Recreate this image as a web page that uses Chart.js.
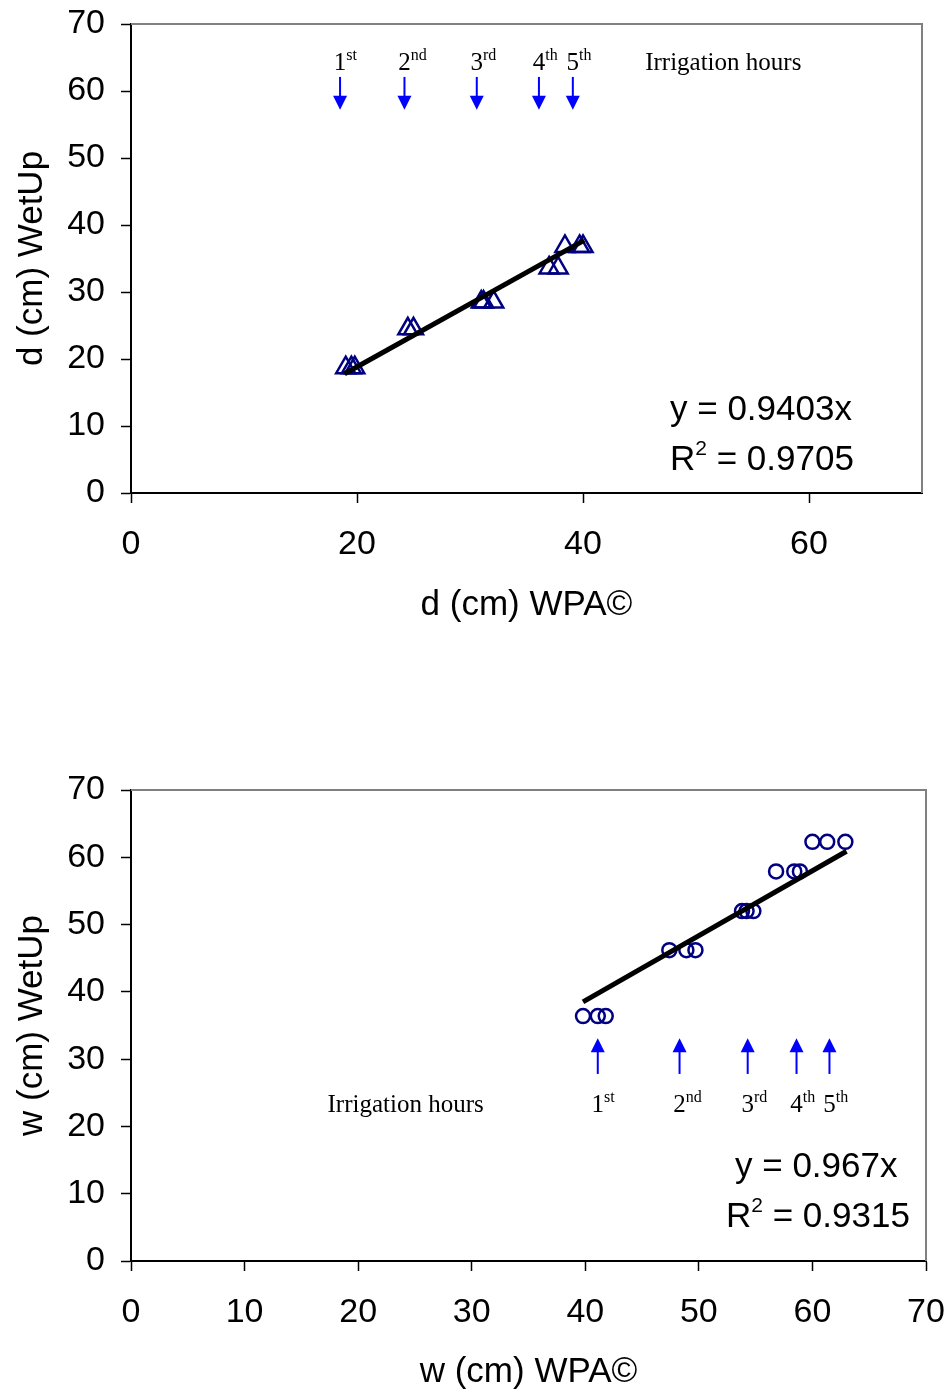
<!DOCTYPE html>
<html>
<head>
<meta charset="utf-8">
<script src="https://cdn.jsdelivr.net/npm/chart.js@4.4.0/dist/chart.umd.min.js"></script>
<style>
  body { margin: 0; background: #fff; }
  #wrap { position: relative; width: 948px; height: 1393px; }
  canvas { position: absolute; left: 0; }
</style>
</head>
<body>
<div id="wrap">
  <canvas id="depthChart" width="948" height="680" style="top:0px"></canvas>
  <canvas id="widthChart" width="948" height="713" style="top:680px"></canvas>
</div>
<script>
// depth (top chart): WPA vs WetUp, triangles
var depthWpa = [19.0, 19.5, 19.8, 24.5, 25.0, 31.0, 31.2, 32.1, 37.0, 37.8, 38.4, 39.7, 40.0];
var depthWet = [18.7, 18.7, 18.7, 24.5, 24.5, 28.5, 28.5, 28.5, 33.6, 33.6, 36.8, 36.8, 36.8];
var depthTrendX = [18.9, 40.1];
var depthTrendY = [17.8, 37.7];
var depthArrowX = [18.5, 24.2, 30.6, 36.1, 39.1];

// width (bottom chart): WPA vs WetUp, circles
var widthWpa = [39.8, 41.1, 41.8, 47.4, 48.9, 49.7, 53.8, 54.2, 54.8, 56.8, 58.4, 58.9, 60.0, 61.3, 62.9];
var widthWet = [36.4, 36.4, 36.4, 46.2, 46.2, 46.2, 52.0, 52.0, 52.0, 57.9, 57.9, 57.9, 62.3, 62.3, 62.3];
var widthTrendX = [39.8, 63.0];
var widthTrendY = [38.5, 60.9];
var widthArrowX = [41.1, 48.3, 54.3, 58.6, 61.5];

var ordinals = [["1", "st"], ["2", "nd"], ["3", "rd"], ["4", "th"], ["5", "th"]];
var axisTicksY = [0, 10, 20, 30, 40, 50, 60, 70];

var sans = "'Liberation Sans', Arial, sans-serif";
var serif = "'Liberation Serif', 'Times New Roman', serif";

function zip(xs, ys) {
  return xs.map(function(x, i) { return { x: x, y: ys[i] }; });
}

// frame, irrigation arrows, labels and the equation text
var notesPlugin = {
  id: "notes",
  beforeDatasetsDraw: function(chart) {
    var a = chart.chartArea, ctx = chart.ctx;
    ctx.save();
    ctx.strokeStyle = "#808080";
    ctx.lineWidth = 2;
    ctx.beginPath();
    ctx.moveTo(a.left, a.top);
    ctx.lineTo(a.right, a.top);
    ctx.lineTo(a.right, a.bottom);
    ctx.stroke();
    ctx.restore();
  },
  afterDatasetsDraw: function(chart, args, o) {
    var ctx = chart.ctx, xs = chart.scales.x, ys = chart.scales.y, a = chart.chartArea;
    ctx.save();
    var tail = ys.getPixelForValue(o.arrowFrom);
    var tip = ys.getPixelForValue(o.arrowTo);
    var dir = tip > tail ? 1 : -1;
    var labY = ys.getPixelForValue(o.labelY);
    o.arrowX.forEach(function(v, i) {
      var px = xs.getPixelForValue(v);
      ctx.strokeStyle = "#0000ff";
      ctx.fillStyle = "#0000ff";
      ctx.lineWidth = 2;
      ctx.beginPath();
      ctx.moveTo(px, tail);
      ctx.lineTo(px, tip - dir * 12);
      ctx.stroke();
      ctx.beginPath();
      ctx.moveTo(px - 7, tip - dir * 14);
      ctx.lineTo(px + 7, tip - dir * 14);
      ctx.lineTo(px, tip);
      ctx.closePath();
      ctx.fill();

      ctx.fillStyle = "#000";
      ctx.textBaseline = "alphabetic";
      ctx.textAlign = "left";
      ctx.font = "25px " + serif;
      var w = ctx.measureText(ordinals[i][0]).width;
      ctx.fillText(ordinals[i][0], px - w / 2, labY);
      ctx.font = "16px " + serif;
      ctx.fillText(ordinals[i][1], px + w / 2, labY - 10);
    });
    ctx.font = "25px " + serif;
    ctx.fillStyle = "#000";
    ctx.fillText("Irrigation hours", xs.getPixelForValue(o.captionX), labY);

    // regression text
    ctx.font = "35px " + sans;
    var ex = a.left + o.eqLeft, ey = a.top + o.eqTop;
    ctx.fillText(o.eq, ex, ey);
    var rx = a.left + o.rLeft, ry = ey + 50;
    ctx.fillText("R", rx, ry);
    var rw = ctx.measureText("R").width;
    ctx.font = "21px " + sans;
    ctx.fillText("2", rx + rw, ry - 15);
    var sw = ctx.measureText("2").width;
    ctx.font = "35px " + sans;
    ctx.fillText(" = " + o.r2, rx + rw + sw, ry);
    ctx.restore();
  }
};

function buildOptions(o) {
  return {
    responsive: false,
    animation: false,
    layout: { padding: { top: o.top, right: 948 - o.right, left: 0, bottom: 0 } },
    plugins: {
      legend: { display: false },
      tooltip: { enabled: false },
      notes: o.notes
    },
    scales: {
      x: {
        type: "linear",
        min: 0,
        max: 70,
        ticks: {
          stepSize: o.xStep,
          includeBounds: false,
          color: "#000",
          font: { family: sans, size: 34 },
          padding: 21,
          maxRotation: 0
        },
        grid: { drawOnChartArea: false, tickLength: 10, tickColor: "#000", tickWidth: 1.5 },
        border: { color: "#000", width: 2 },
        title: {
          display: true,
          text: o.xTitle,
          color: "#000",
          font: { family: sans, size: 35 },
          padding: { top: 0, bottom: o.xTitlePad }
        },
        afterFit: function(s) {
          s.height = o.height - o.bottom;
          s.paddingLeft = 0;
          s.paddingRight = 0;
        }
      },
      y: {
        type: "linear",
        min: 0,
        max: 70,
        afterBuildTicks: function(s) {
          s.ticks = axisTicksY.map(function(v) { return { value: v }; });
        },
        ticks: {
          color: "#000",
          font: { family: sans, size: 34 },
          padding: 16
        },
        grid: { drawOnChartArea: false, tickLength: 10, tickColor: "#000", tickWidth: 1.5 },
        border: { color: "#000", width: 2 },
        title: {
          display: true,
          text: o.yTitle,
          color: "#000",
          font: { family: sans, size: 35 },
          padding: { top: 11, bottom: 0 }
        },
        afterFit: function(s) {
          s.width = 131;
          s.paddingTop = 0;
          s.paddingBottom = 0;
        }
      }
    }
  };
}

new Chart(document.getElementById("depthChart").getContext("2d"), {
  type: "scatter",
  data: {
    datasets: [
      {
        data: zip(depthTrendX, depthTrendY),
        showLine: true,
        borderColor: "#000",
        borderWidth: 5,
        pointRadius: 0
      },
      {
        data: zip(depthWpa, depthWet),
        pointStyle: "triangle",
        pointRadius: 11,
        borderColor: "#000080",
        borderWidth: 2.5,
        backgroundColor: "rgba(0,0,0,0)"
      }
    ]
  },
  options: buildOptions({
    top: 24, right: 922, bottom: 493, height: 680,
    xStep: 20, xTitle: "d (cm) WPA©", yTitle: "d (cm) WetUp", xTitlePad: 54,
    notes: {
      arrowX: depthArrowX, arrowFrom: 62.1, arrowTo: 57.2, labelY: 63.1, captionX: 45.5,
      eq: "y = 0.9403x", r2: "0.9705", eqLeft: 539, eqTop: 396, rLeft: 539
    }
  }),
  plugins: [notesPlugin]
});

new Chart(document.getElementById("widthChart").getContext("2d"), {
  type: "scatter",
  data: {
    datasets: [
      {
        data: zip(widthTrendX, widthTrendY),
        showLine: true,
        borderColor: "#000",
        borderWidth: 5,
        pointRadius: 0
      },
      {
        data: zip(widthWpa, widthWet),
        pointStyle: "circle",
        pointRadius: 7,
        borderColor: "#000080",
        borderWidth: 2.5,
        backgroundColor: "rgba(0,0,0,0)"
      }
    ]
  },
  options: buildOptions({
    top: 110, right: 926, bottom: 581, height: 713,
    xStep: 10, xTitle: "w (cm) WPA©", yTitle: "w (cm) WetUp", xTitlePad: 0,
    notes: {
      arrowX: widthArrowX, arrowFrom: 27.8, arrowTo: 33.1, labelY: 22.1, captionX: 17.3,
      eq: "y = 0.967x", r2: "0.9315", eqLeft: 604, eqTop: 387, rLeft: 595
    }
  }),
  plugins: [notesPlugin]
});
</script>
</body>
</html>
